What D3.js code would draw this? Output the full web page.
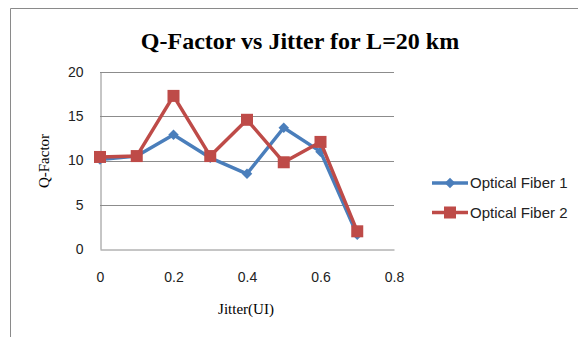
<!DOCTYPE html>
<html>
<head>
<meta charset="utf-8">
<script src="https://cdn.jsdelivr.net/npm/d3@7"></script>
<style>
  body { margin: 0; background: #fff; }
  .tick text { font-family: "Liberation Sans", Arial, sans-serif; font-size: 14px; fill: #222; }
</style>
</head>
<body>
<div id="chart"></div>
<script>
var svgWidth = 578;
var svgHeight = 337;

// chart data
var jitter = [0, 0.1, 0.2, 0.3, 0.4, 0.5, 0.6, 0.7];
var fiber1 = [10.1, 10.5, 12.9, 10.3, 8.5, 13.7, 11.0, 1.6];
var fiber2 = [10.4, 10.5, 17.3, 10.5, 14.6, 9.8, 12.1, 2.0];
var seriesNames = ["Optical Fiber 1", "Optical Fiber 2"];
var xTicks = [0, 0.2, 0.4, 0.6, 0.8];
var yTicks = [0, 5, 10, 15, 20];

var margin = { top: 72, left: 100 };
var width = 294;
var height = 177;

var svg = d3.select("#chart")
  .append("svg")
  .attr("width", svgWidth)
  .attr("height", svgHeight);

// outer frame (runs off the page to the right and bottom)
svg.append("path")
  .attr("d", "M10.5,340 L10.5,8.5 L580,8.5")
  .attr("fill", "none")
  .attr("stroke", "#8a8a8a")
  .attr("stroke-width", 1);

var chartGroup = svg.append("g")
  .attr("transform", `translate(${margin.left}, ${margin.top})`);

var x = d3.scaleLinear().domain([0, 0.8]).range([0, width]);
var y = d3.scaleLinear().domain([0, 20]).range([height, 0]);

// gridlines
chartGroup.selectAll(".grid")
  .data(yTicks.filter(d => d > 0))
  .enter()
  .append("line")
  .attr("x1", 0)
  .attr("x2", width)
  .attr("y1", d => Math.round(y(d)) + 0.5)
  .attr("y2", d => Math.round(y(d)) + 0.5)
  .attr("stroke", "#8c8c8c")
  .attr("stroke-width", 1);

var bottomAxis = d3.axisBottom(x).tickValues(xTicks).tickFormat(d3.format("")).tickSize(0).tickPadding(23);
var leftAxis = d3.axisLeft(y).tickValues(yTicks).tickSize(0).tickPadding(17);

var xAxisG = chartGroup.append("g")
  .attr("transform", `translate(0, ${Math.round(height) + 0.5})`)
  .call(bottomAxis);
xAxisG.select(".domain").attr("stroke", "#8c8c8c");

var yAxisG = chartGroup.append("g")
  .attr("transform", "translate(0.5, 0)")
  .call(leftAxis);
yAxisG.select(".domain").attr("stroke", "#8c8c8c");

var series = [
  { name: seriesNames[0], values: fiber1, color: "#4a7ebb", marker: "diamond" },
  { name: seriesNames[1], values: fiber2, color: "#be4b48", marker: "square" }
];

var line = d3.line()
  .x(d => x(d[0]))
  .y(d => y(d[1]));

function drawMarker(g, type, color) {
  if (type === "diamond") {
    g.append("path")
      .attr("d", d3.symbol().type(d3.symbolDiamond2).size(70)())
      .attr("fill", color);
  } else {
    g.append("rect")
      .attr("x", -6).attr("y", -6)
      .attr("width", 12).attr("height", 12)
      .attr("fill", color);
  }
}

series.forEach(function(s) {
  var pts = jitter.map((j, i) => [j, s.values[i]]);
  chartGroup.append("path")
    .datum(pts)
    .attr("d", line)
    .attr("fill", "none")
    .attr("stroke", s.color)
    .attr("stroke-width", 3.5)
    .attr("stroke-linejoin", "round");

  pts.forEach(function(p) {
    var m = chartGroup.append("g")
      .attr("transform", `translate(${x(p[0])}, ${y(p[1])})`);
    drawMarker(m, s.marker, s.color);
  });
});

// title
svg.append("text")
  .attr("x", 300)
  .attr("y", 49)
  .attr("text-anchor", "middle")
  .attr("font-family", "'Liberation Serif', 'Times New Roman', serif")
  .attr("font-weight", "bold")
  .attr("font-size", 24)
  .attr("fill", "#000")
  .text("Q-Factor vs Jitter for L=20 km");

// axis labels
svg.append("text")
  .attr("transform", "translate(49, 161) rotate(-90)")
  .attr("text-anchor", "middle")
  .attr("font-family", "'Liberation Serif', 'Times New Roman', serif")
  .attr("font-size", 15)
  .attr("fill", "#000")
  .text("Q-Factor");

svg.append("text")
  .attr("x", 246)
  .attr("y", 314)
  .attr("text-anchor", "middle")
  .attr("font-family", "'Liberation Serif', 'Times New Roman', serif")
  .attr("font-size", 15)
  .attr("fill", "#000")
  .text("Jitter(UI)");

// legend
var legend = svg.append("g").attr("transform", "translate(432, 183)");
series.forEach(function(s, i) {
  var row = legend.append("g").attr("transform", `translate(0, ${i * 29.5})`);
  row.append("line")
    .attr("x1", 0).attr("x2", 36)
    .attr("stroke", s.color)
    .attr("stroke-width", 3.5);
  var m = row.append("g").attr("transform", "translate(18, 0)");
  drawMarker(m, s.marker, s.color);
  row.append("text")
    .attr("x", 38)
    .attr("y", 0)
    .attr("dy", "0.35em")
    .attr("font-family", "'Liberation Sans', Arial, sans-serif")
    .attr("font-size", 15)
    .attr("fill", "#222")
    .text(s.name);
});
</script>
</body>
</html>
